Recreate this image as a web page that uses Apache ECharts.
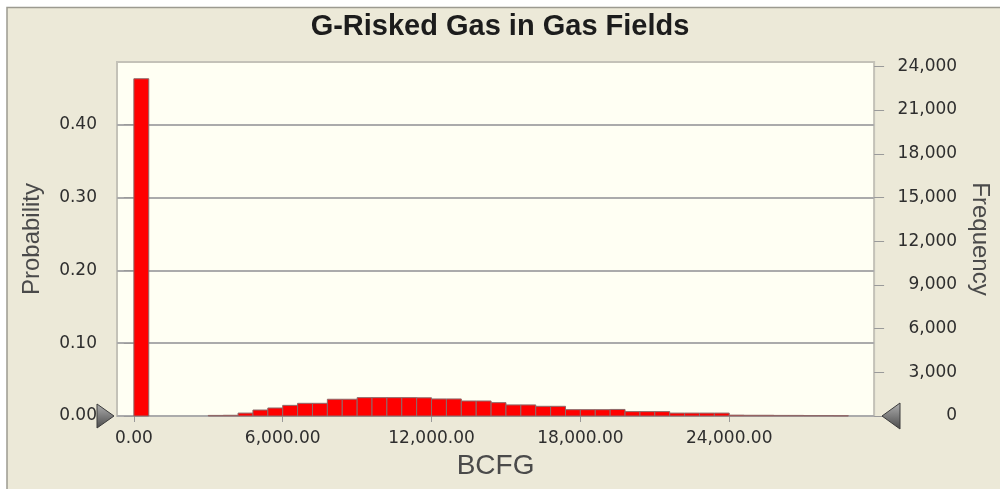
<!DOCTYPE html>
<html>
<head>
<meta charset="utf-8">
<script src="https://cdn.jsdelivr.net/npm/echarts@6/dist/echarts.min.js"></script>
<style>
html, body { margin: 0; padding: 0; background: #fff; }
#main { width: 1000px; height: 489px; }
</style>
</head>
<body>
<div id="main"></div>
<script>
// histogram data (frequency per 600 BCFG bin)
var chartTitle = 'G-Risked Gas in Gas Fields';
var binSize = 600;
var binStart = [0, 3000, 3600, 4200, 4800, 5400, 6000, 6600, 7200, 7800, 8400,
	9000, 9600, 10200, 10800, 11400, 12000, 12600, 13200, 13800, 14400,
	15000, 15600, 16200, 16800, 17400, 18000, 18600, 19200, 19800, 20400,
	21000, 21600, 22200, 22800, 23400, 24000, 24600, 25200, 25800, 26400,
	27000, 27600, 28200];
var frequency = [23150, 40, 50, 200, 410, 550, 730, 870, 870, 1150, 1150,
	1260, 1260, 1260, 1260, 1250, 1170, 1170, 1030, 1030, 915,
	760, 760, 665, 665, 435, 435, 435, 450, 300, 300,
	300, 200, 200, 200, 200, 60, 50, 50, 40, 40,
	30, 30, 20];
var trials = 50000;
var xTicks = [0, 6000, 12000, 18000, 24000];
var probTicks = [0, 0.1, 0.2, 0.3, 0.4];
var freqTicks = [0, 3000, 6000, 9000, 12000, 15000, 18000, 21000, 24000];
var freqMax = 24300;

var tickFont = 'DejaVu Sans';
var nameFont = 'Liberation Sans, Arial, sans-serif';

var bins = binStart.map(function(s, i) {
	return [s, s + binSize, frequency[i]];
});

function fmt(v, d) {
	return Number(v).toLocaleString('en-US', { minimumFractionDigits: d, maximumFractionDigits: d });
}

function renderBar(params, api) {
	var p0 = api.coord([api.value(0), api.value(2)]);
	var p1 = api.coord([api.value(1), 0]);
	return {
		type: 'rect',
		shape: { x: p0[0], y: p0[1], width: p1[0] - p0[0], height: p1[1] - p0[1] },
		style: { fill: '#ff0000', stroke: '#8c6a6a', lineWidth: 1 }
	};
}

var myChart = echarts.init(document.getElementById('main'));
var option = {
	backgroundColor: '#ECE9D8',
	animation: false,
	title: {
		text: chartTitle,
		left: 'center',
		top: 7,
		textStyle: { fontFamily: nameFont, fontSize: 29, fontWeight: 'bold', color: '#1c1c1c' }
	},
	grid: {
		left: 117, right: 120, top: 62, bottom: 73,
		show: true,
		backgroundColor: '#FFFFF3',
		borderColor: '#c4c2b8',
		borderWidth: 2
	},
	xAxis: {
		type: 'value',
		min: -680,
		max: 29840,
		name: 'BCFG',
		nameLocation: 'middle',
		nameGap: 36,
		nameTextStyle: { fontFamily: nameFont, fontSize: 28, color: '#4a4a4a' },
		axisLine: { show: false },
		splitLine: { show: false },
		axisTick: { show: true, length: 6, customValues: xTicks, lineStyle: { color: '#999' } },
		axisLabel: {
			customValues: xTicks,
			margin: 14,
			fontFamily: tickFont, fontSize: 17, color: '#2e2e2e',
			formatter: function(v) { return fmt(v, 2); }
		}
	},
	yAxis: [{
		type: 'value',
		position: 'left',
		min: 0,
		max: freqMax / trials,
		interval: 0.1,
		name: 'Probability',
		nameLocation: 'middle',
		nameGap: 73,
		nameTextStyle: { fontFamily: nameFont, fontSize: 24, color: '#4a4a4a' },
		axisLine: { show: false },
		axisTick: { show: true, length: 10, customValues: probTicks, lineStyle: { color: '#9a9a9a' } },
		axisLabel: {
			customValues: probTicks,
			margin: 20,
			fontFamily: tickFont, fontSize: 17, color: '#2e2e2e',
			formatter: function(v) { return v.toFixed(2); }
		},
		splitLine: { show: true, lineStyle: { color: '#ababab', width: 2 } }
	}, {
		type: 'value',
		position: 'right',
		min: 0,
		max: freqMax,
		interval: 3000,
		name: 'Frequency',
		nameLocation: 'middle',
		nameRotate: -90,
		nameGap: 92,
		nameTextStyle: { fontFamily: nameFont, fontSize: 24, color: '#4a4a4a' },
		axisLine: { show: false },
		axisTick: { show: true, length: 10, customValues: freqTicks, lineStyle: { color: '#9a9a9a' } },
		axisLabel: {
			customValues: freqTicks,
			margin: 83,
			align: 'right',
			fontFamily: tickFont, fontSize: 17, color: '#2e2e2e',
			formatter: function(v) { return fmt(v, 0); }
		},
		splitLine: { show: false }
	}],
	series: [{
		type: 'custom',
		name: 'Frequency',
		xAxisIndex: 0,
		yAxisIndex: 1,
		renderItem: renderBar,
		encode: { x: [0, 1], y: 2 },
		data: bins,
		z: 3
	}],
	graphic: [
		{ type: 'rect', shape: { x: 0, y: 0, width: 1000, height: 7 }, style: { fill: '#fff' }, silent: true },
		{ type: 'rect', shape: { x: 0, y: 0, width: 7, height: 489 }, style: { fill: '#fff' }, silent: true },
		{ type: 'polyline', shape: { points: [[7, 489], [7, 7.5], [1000, 7.5]] }, style: { stroke: '#9c9a90', lineWidth: 1.5, fill: null }, silent: true },
		{
			type: 'polygon', shape: { points: [[97, 404], [114, 416], [97, 428]] },
			style: {
				fill: new echarts.graphic.LinearGradient(0, 0, 0, 1, [{ offset: 0, color: '#b0b0b0' }, { offset: 1, color: '#4a4a4a' }]),
				stroke: '#3c3c3c', lineWidth: 1
			},
			z: 100
		},
		{
			type: 'polygon', shape: { points: [[900, 403], [882, 416], [900, 429]] },
			style: {
				fill: new echarts.graphic.LinearGradient(0, 0, 0, 1, [{ offset: 0, color: '#b0b0b0' }, { offset: 1, color: '#4a4a4a' }]),
				stroke: '#3c3c3c', lineWidth: 1
			},
			z: 100
		}
	]
};
myChart.setOption(option);
</script>
</body>
</html>
